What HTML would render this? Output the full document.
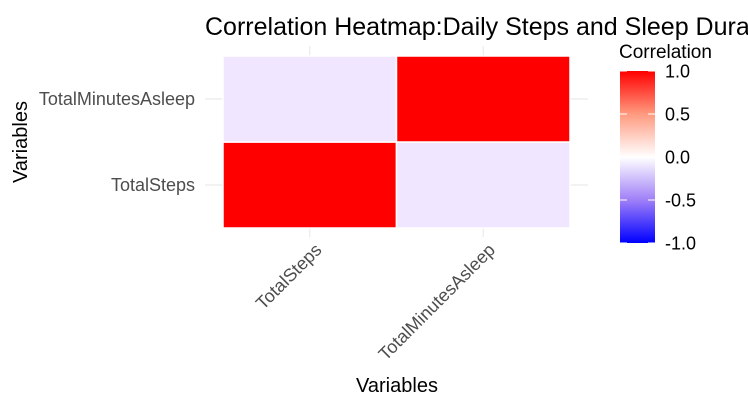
<!DOCTYPE html>
<html><head><meta charset="utf-8"><style>
body{margin:0;background:#fff;width:748px;height:409px;overflow:hidden}
svg text{font-family:"Liberation Sans",Arial,sans-serif}
</style></head><body>
<svg id="c" width="748" height="409">
<defs><linearGradient id="lg" x1="0" y1="1" x2="0" y2="0">
<stop offset="0" stop-color="#0000ff"/><stop offset="0.25" stop-color="#9f7ff8"/><stop offset="0.5" stop-color="#ffffff"/><stop offset="0.75" stop-color="#ff9a7f"/><stop offset="1" stop-color="#ff0000"/></linearGradient></defs>
<text x="205" y="35" font-size="25" fill="#000">Correlation Heatmap:Daily Steps and Sleep Duration</text>
<g id="grid"></g><g id="cells"></g><g id="labels"></g>
<text x="397" y="392" font-size="20" text-anchor="middle" fill="#000">Variables</text>
<text transform="translate(27,142) rotate(-90)" font-size="20" text-anchor="middle" fill="#000">Variables</text>
<g>
<text x="619" y="58" font-size="19" fill="#000">Correlation</text>
<rect x="620" y="71" width="35" height="172" fill="url(#lg)"/>
<g id="leg"></g></g>
</svg>
<script>
const vars=["TotalSteps","TotalMinutesAsleep"];
const corr=[[1,-0.07],[-0.07,1]];
const legendTicks=[1,0.5,0,-0.5,-1];
const legendLabels=["1.0","0.5","0.0","-0.5","-1.0"];
const ns="http://www.w3.org/2000/svg";
const x0=223,cw=173.5,yBottom=228,ch=86;
function xs(i){return x0+i*cw;}
function ys(j){return yBottom-(j+1)*ch;}
function ly(v){return 157-v*86;}
function col(v){
 if(v>=0){const g=Math.round(255*(1-v));return `rgb(255,${g},${g})`;}
 const t=-v;return `rgb(${Math.max(0,Math.round(255-220*t))},${Math.max(0,Math.round(255-360*t))},${Math.round(255-2*t)})`;
}
function mk(t,a,p){const e=document.createElementNS(ns,t);for(const k in a)e.setAttribute(k,a[k]);p.appendChild(e);return e;}
const G=document.getElementById('grid'),C=document.getElementById('cells'),L=document.getElementById('labels'),LG=document.getElementById('leg');
vars.forEach((v,i)=>{
 const cx=xs(i)+cw/2;
 const gl=mk('line',{x1:cx,x2:cx,y1:46,y2:237,stroke:'#ebebeb','stroke-width':1.2},G);
 
 
 const cy=ys(i)+ch/2;
 const gh=mk('line',{x1:205,x2:588,y1:cy,y2:cy,stroke:'#ebebeb','stroke-width':1.2},G);
 
 
 const tx=mk('text',{transform:`translate(${cx+13},${251}) rotate(-45)`,'font-size':18,fill:'#4d4d4d','text-anchor':'end'},L);
 tx.textContent=v;
 
 
 const ty=mk('text',{x:195,y:cy+6,'font-size':18,fill:'#4d4d4d','text-anchor':'end'},L);
 ty.textContent=v;
 
 
});
corr.forEach((row,j)=>row.forEach((v,i)=>{
 const r=mk('rect',{x:xs(i),y:ys(j),width:cw,height:ch,fill:col(v),stroke:'#fff','stroke-width':1.5},C);
 
 
}));
legendTicks.forEach((v,k)=>{
 const y=ly(v);
 mk('line',{x1:620,x2:627,y1:y,y2:y,stroke:'#fff'},LG);
 mk('line',{x1:648,x2:655,y1:y,y2:y,stroke:'#fff'},LG);
 const t=mk('text',{x:665,y:y+6.5,'font-size':18,fill:'#000'},LG);
 t.textContent=legendLabels[k];
 
 
});
</script>
</body></html>
